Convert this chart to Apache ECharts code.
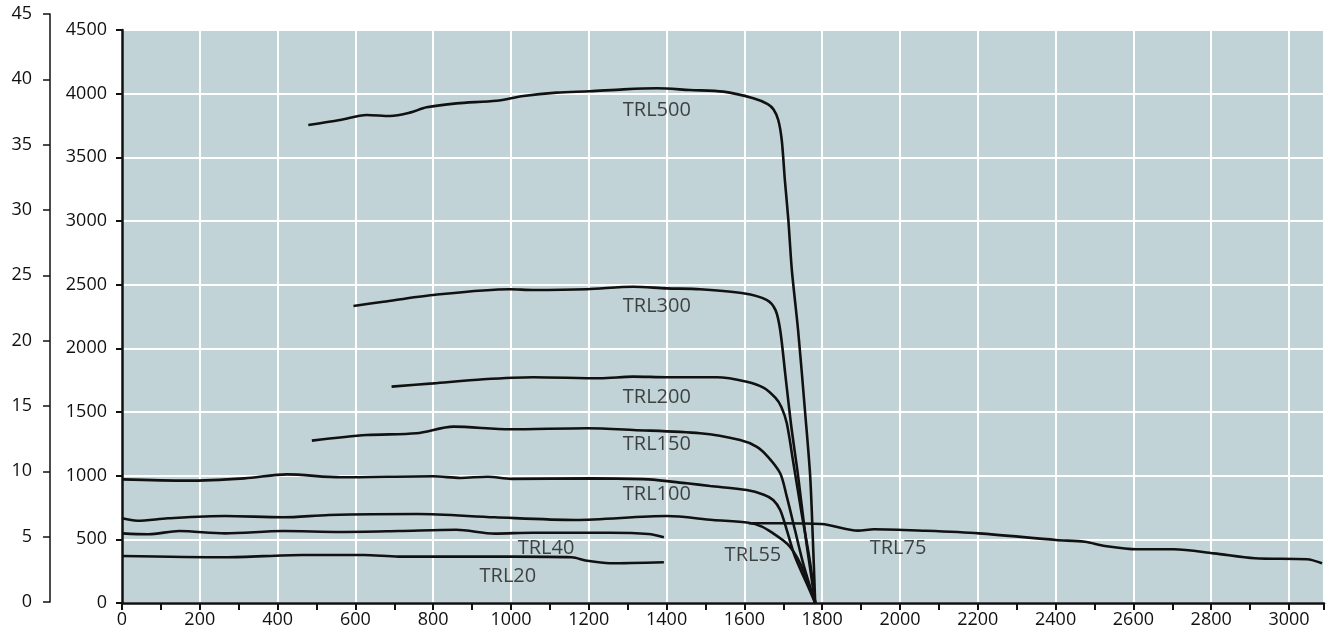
<!DOCTYPE html>
<html>
<head>
<meta charset="utf-8">
<script src="https://cdn.jsdelivr.net/npm/echarts@6/dist/echarts.min.js"></script>
<style>
  html, body { margin: 0; padding: 0; background: #fff; }
  #chart { width: 1330px; height: 635px; }
</style>
</head>
<body>
<div id="chart"></div>
<script>
// curves, [x, y] in axis units
var trl500 = [[479,3754],[560,3793],[629,3833],[689,3825],[740,3851],[783,3893],[860,3924],[963,3945],[1032,3982],[1117,4008],[1203,4019],[1289,4034],[1375,4042],[1460,4029],[1546,4016],[1623,3964],[1660,3918],[1675,3875],[1687,3793],[1696,3636],[1704,3322],[1713,3008],[1722,2615],[1738,2144],[1756,1500],[1769,1000],[1776,500],[1782,0]];
var trl300 = [[595,2332],[672,2366],[800,2419],[997,2464],[1057,2458],[1195,2464],[1314,2484],[1400,2471],[1486,2464],[1597,2432],[1657,2380],[1680,2300],[1692,2144],[1705,1800],[1720,1400],[1738,1000],[1756,550],[1770,250],[1782,0]];
var trl200 = [[693,1699],[800,1725],[929,1757],[1057,1773],[1229,1765],[1314,1778],[1400,1773],[1529,1773],[1606,1738],[1650,1690],[1680,1610],[1695,1540],[1709,1411],[1726,1097],[1747,707],[1769,314],[1782,0]];
var trl150 = [[488,1275],[629,1319],[757,1333],[852,1385],[997,1364],[1195,1372],[1314,1359],[1486,1333],[1589,1280],[1631,1228],[1660,1150],[1692,1019],[1709,835],[1730,573],[1751,312],[1782,0]];
var trl100 = [[0,971],[167,961],[315,979],[424,1010],[562,987],[800,995],[870,982],[940,992],[1000,975],[1205,979],[1353,971],[1452,940],[1512,919],[1606,887],[1650,850],[1674,809],[1692,730],[1709,573],[1730,364],[1760,155],[1782,0]];
var trl55 = [[0,665],[39,646],[118,665],[265,683],[414,673],[532,691],[760,699],[958,673],[1165,652],[1401,683],[1519,652],[1611,630],[1645,600],[1674,547],[1700,490],[1717,442],[1735,360],[1751,259],[1768,120],[1782,0]];
var trl75 = [[1611,626],[1694,626],[1798,620],[1892,568],[1933,579],[2058,568],[2203,547],[2401,495],[2475,481],[2527,448],[2609,422],[2704,422],[2807,390],[2912,351],[3046,343],[3085,312]];
var trl40 = [[0,547],[68,540],[147,565],[265,547],[414,565],[562,558],[711,565],[859,575],[958,545],[1057,552],[1254,552],[1353,542],[1393,516]];
var trl20 = [[0,369],[265,359],[463,377],[622,377],[711,364],[859,364],[1008,364],[1156,359],[1195,332],[1254,312],[1393,320]];

var curveNames = ['TRL500','TRL300','TRL200','TRL150','TRL100','TRL55','TRL75','TRL40','TRL20'];
var curves = [trl500, trl300, trl200, trl150, trl100, trl55, trl75, trl40, trl20];

// where the curve names sit, [name, x, y]
var curveLabels = [
  ['TRL500', 1375, 3872], ['TRL300', 1375, 2332], ['TRL200', 1375, 1618],
  ['TRL150', 1375, 1249], ['TRL100', 1375, 856], ['TRL55', 1622, 377],
  ['TRL75', 1995, 432], ['TRL40', 1090, 432], ['TRL20', 992, 212]
];

var xMax = 3090;
var yMax = 4500;
var outerMax = 45;

var font = 'Open Sans';
var ink = '#111';

var chart = echarts.init(document.getElementById('chart'), null, { renderer: 'canvas' });

var series = curves.map(function(d, i) {
  return {
    name: curveNames[i],
    type: 'line',
    xAxisIndex: 0,
    yAxisIndex: 0,
    data: d,
    showSymbol: false,
    smooth: 0.3,
    lineStyle: { color: ink, width: 2.6 },
    silent: true,
    z: 3
  };
});

series.push({
  type: 'scatter',
  xAxisIndex: 0,
  yAxisIndex: 0,
  symbolSize: 0,
  data: curveLabels.map(function(l) { return { name: l[0], value: [l[1], l[2]] }; }),
  label: {
    show: true,
    position: 'inside',
    formatter: '{b}',
    color: '#1c1c1c',
    fontFamily: font,
    fontSize: 20
  },
  silent: true,
  z: 4
});

chart.setOption({
  animation: false,
  backgroundColor: '#fff',
  grid: [
    { left: 122, right: 6, top: 30, bottom: 32, show: true, backgroundColor: '#c1d3d6', borderWidth: 0 },
    { left: 50, width: 1, top: 14, bottom: 33 }
  ],
  xAxis: [{
    gridIndex: 0,
    type: 'value',
    min: 0,
    max: xMax,
    interval: 200,
    axisLine: { show: true, lineStyle: { color: ink, width: 2.5 } },
    axisTick: { show: true, length: 7, lineStyle: { color: ink, width: 2 } },
    minorTick: { show: true, splitNumber: 2, length: 7, lineStyle: { color: ink, width: 2 } },
    axisLabel: {
      color: ink, fontFamily: font, fontSize: 18, margin: 8,
      showMaxLabel: false,
      formatter: function(v) { return v % 200 === 0 ? String(v) : ''; }
    },
    splitLine: { show: true, lineStyle: { color: '#fff', width: 2 } }
  }, {
    gridIndex: 1, type: 'value', min: 0, max: 1, show: false
  }],
  yAxis: [{
    gridIndex: 0,
    type: 'value',
    min: 0,
    max: yMax,
    interval: 500,
    axisLine: { show: true, lineStyle: { color: ink, width: 2.5 } },
    axisTick: { show: true, length: 6, lineStyle: { color: ink, width: 2 } },
    axisLabel: {
      color: ink, fontFamily: font, fontSize: 18, margin: 15, padding: [0, 0, 5, 0],
      formatter: function(v) { return String(v); }
    },
    splitLine: { show: true, lineStyle: { color: '#fff', width: 2 } }
  }, {
    gridIndex: 1,
    type: 'value',
    min: 0,
    max: outerMax,
    interval: 5,
    axisLine: { show: true, lineStyle: { color: ink, width: 1.5 } },
    axisTick: { show: true, length: 7, lineStyle: { color: ink, width: 1.5 } },
    axisLabel: { color: ink, fontFamily: font, fontSize: 18, margin: 18 },
    splitLine: { show: false }
  }],
  series: series
});
</script>
</body>
</html>
